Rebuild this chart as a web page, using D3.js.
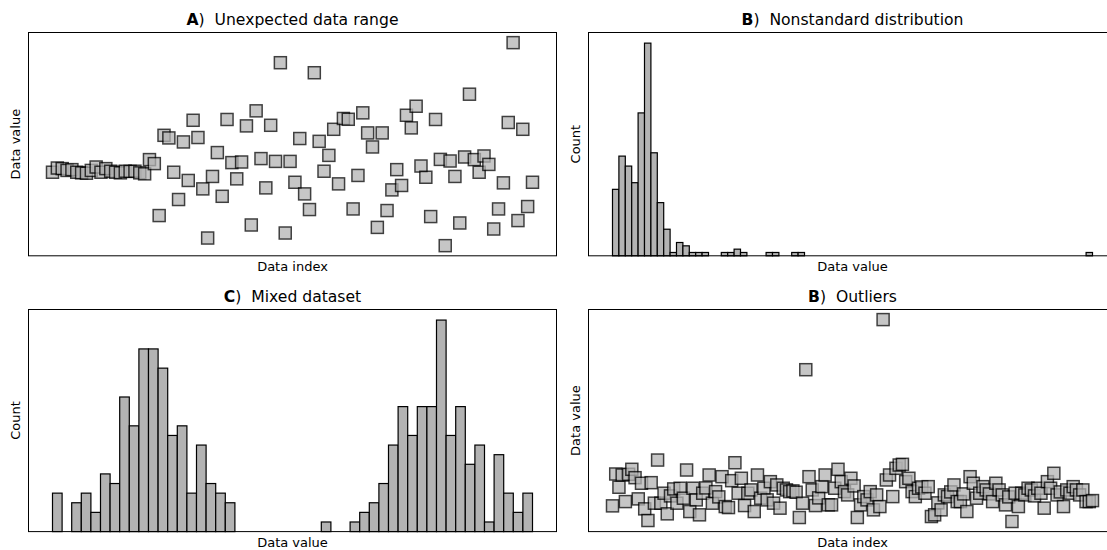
<!DOCTYPE html>
<html>
<head>
<meta charset="utf-8">
<script src="https://cdn.jsdelivr.net/npm/d3@7"></script>
<style>
  html, body { margin: 0; padding: 0; background: #fff; }
  svg { display: block; font-family: "DejaVu Sans", sans-serif; }
  text { white-space: pre; fill: #000; }
</style>
</head>
<body>
<svg id="chart" width="1107" height="550"></svg>
<script>
// Panel A: a quiet stretch followed by wide swings (one value per index)
const rangeValues = [
  -0.09, 0.12, 0.09, 0, 0.04, -0.09, -0.12, -0.14, 0, 0.17,
  -0.09, 0.09, -0.04, -0.09, -0.12, -0.04, -0.05, -0.04, -0.12, -0.17,
  0.54, 0.34, -2.25, 1.75, 1.62, -0.09, -1.45, 1.42, -0.5, 2.5,
  1.64, -0.92, -3.37, -0.3, 0.89, -1.29, 2.54, 0.39, -0.42, 0.42,
  2.22, -2.72, 2.97, 0.59, -0.87, 2.25, 0.45, 5.37, -3.12, 0.45,
  -0.59, 1.59, -1.17, -1.95, 4.87, 1.45, -0.04, 0.75, 2.05, -0.67,
  2.59, 2.55, -1.92, -0.25, 2.87, 1.87, 1.17, -2.84, 1.87, -2,
  -0.97, 0.04, -0.75, 2.75, 2.12, 3.2, 0.22, -0.34, -2.3, 2.54,
  0.55, -3.75, 0.47, -0.3, -2.62, 0.67, 3.8, 0.54, -0.09, 0.72,
  0.3, -2.92, -1.92, -0.62, 2.39, 6.37, -2.5, 2.05, -1.8, -0.59
];

// Panel B: counts per bin of a long right-tailed distribution
const skewCounts = [
  20, 30, 27, 22, 43, 64, 31, 16, 8, 1,
  4, 3, 1, 1, 1, 0, 0, 1, 1, 2,
  1, 0, 0, 0, 1, 1, 0, 0, 1, 1,
  0, 0, 0, 0, 0, 0, 0, 0, 0, 0,
  0, 0, 0, 0, 0, 0, 0, 0, 0, 0,
  0, 0, 0, 0, 0, 0, 0, 0, 0, 0,
  0, 0, 0, 0, 0, 0, 0, 0, 0, 0,
  0, 0, 0, 0, 1
];

// Panel C: counts per bin of two separate groups
const mixedCounts = [
  4, 0, 3, 4, 2, 6, 5, 14, 11, 19,
  19, 17, 10, 11, 4, 9, 5, 4, 3, 0,
  0, 0, 0, 0, 0, 0, 0, 0, 1, 0,
  0, 1, 2, 3, 5, 9, 13, 10, 13, 13,
  22, 10, 13, 7, 9, 1, 8, 4, 2, 4
];

// Panel D: a steady series with two isolated spikes
const outlierValues = [
  2.4, 5.6, 4.27, 5.5, 2.83, 5.57, 6.07, 5.23, 3.1, 4.67,
  2.1, 0.93, 4.73, 2.67, 7.0, 2.67, 3.67, 1.6, 3.4, 4.1,
  2.67, 4.17, 3.17, 6.0, 1.83, 4.17, 3.0, 1.5, 3.67, 4.2,
  5.5, 2.67, 3.83, 3.3, 5.33, 2.33, 2.23, 4.93, 6.73, 3.67,
  5.17, 2.43, 3.67, 4.0, 1.83, 5.5, 3.17, 4.17, 3.0, 4.83,
  2.67, 4.5, 2.17, 4.17, 4.0, 3.83, 3.9, 3.77, 1.23, 2.67,
  16.07, 5.33, 4.0, 2.43, 3.2, 4.33, 5.5, 2.5, 2.5, 4.17,
  6.07, 4.83, 3.83, 3.5, 5.17, 4.4, 1.23, 2.5, 3.33, 3.0,
  3.83, 2.0, 3.5, 2.33, 21.1, 5.0, 5.5, 3.33, 6.17, 6.5,
  6.57, 4.83, 5.17, 3.83, 3.33, 4.17, 4.3, 3.67, 4.33, 1.33,
  1.5, 2.7, 2.0, 3.5, 3.33, 3.8, 4.5, 2.83, 2.83, 3.6,
  1.83, 5.33, 4.67, 3.17, 3.67, 4.33, 4.0, 3.6, 2.83, 4.67,
  4.0, 3.5, 2.5, 3.3, 0.83, 3.67, 2.33, 3.67, 3.5, 4.17,
  4.0, 3.4, 4.17, 3.67, 2.17, 4.83, 4.17, 5.67, 3.5, 3.8,
  2.33, 4.0, 3.67, 4.33, 4.0, 3.5, 4.0, 2.83, 2.83, 2.93
];

const panelLetters = ["A", "B", "C", "B"];
const panelTitles = ["Unexpected data range", "Nonstandard distribution", "Mixed dataset", "Outliers"];
const xLabels = ["Data index", "Data value", "Data value", "Data index"];
const yLabels = ["Data value", "Count", "Count", "Data value"];

const svg = d3.select("#chart");

// Axes boxes (right column runs past the canvas edge)
const boxes = [
  { x0: 28.5, x1: 556.5, y0: 32.5, y1: 255.8 },
  { x0: 588.5, x1: 1116.5, y0: 32.5, y1: 255.8 },
  { x0: 28.5, x1: 556.5, y0: 309.5, y1: 531.6 },
  { x0: 588.5, x1: 1116.5, y0: 309.5, y1: 531.6 }
];

const markFill = "rgb(179,179,179)";
const markerSide = 12;

function padDomain(lo, hi) {
  const r = hi - lo;
  return [lo - 0.05 * r, hi + 0.05 * r];
}

function drawScatter(g, box, values) {
  const n = values.length;
  const x = d3.scaleLinear().domain(padDomain(0, n - 1)).range([box.x0, box.x1]);
  const ext = d3.extent(values);
  const y = d3.scaleLinear().domain(padDomain(ext[0], ext[1])).range([box.y1, box.y0]);
  g.append("g")
    .selectAll("rect")
    .data(values)
    .join("rect")
    .attr("x", (d, i) => x(i) - markerSide / 2)
    .attr("y", d => y(d) - markerSide / 2)
    .attr("width", markerSide)
    .attr("height", markerSide)
    .attr("fill", markFill)
    .attr("stroke", "#000")
    .attr("stroke-width", 1.5)
    .attr("opacity", 0.75);
}

function drawHistogram(g, box, counts) {
  const nb = counts.length;
  const x = d3.scaleLinear().domain(padDomain(0, nb)).range([box.x0, box.x1]);
  const y = d3.scaleLinear().domain([0, d3.max(counts) * 1.05]).range([box.y1, box.y0]);
  const bins = counts.map((c, i) => ({ lo: i, hi: i + 1, c }));
  g.append("g")
    .selectAll("rect")
    .data(bins.filter(b => b.c > 0))
    .join("rect")
    .attr("x", b => x(b.lo))
    .attr("y", b => y(b.c))
    .attr("width", b => x(b.hi) - x(b.lo))
    .attr("height", b => y(0) - y(b.c))
    .attr("fill", markFill)
    .attr("stroke", "#000")
    .attr("stroke-width", 1.2);
}

function decorate(g, box, k) {
  const cx = (box.x0 + box.x1) / 2;
  const cy = (box.y0 + box.y1) / 2;

  g.append("rect")
    .attr("x", box.x0).attr("y", box.y0)
    .attr("width", box.x1 - box.x0).attr("height", box.y1 - box.y0)
    .attr("fill", "none").attr("stroke", "#000").attr("stroke-width", 1);

  const title = g.append("text")
    .attr("x", cx).attr("y", box.y0 - 7.5)
    .attr("text-anchor", "middle")
    .attr("font-size", 15.6);
  title.append("tspan").attr("font-weight", "bold").text(panelLetters[k]);
  title.append("tspan").text(")  " + panelTitles[k]);

  g.append("text")
    .attr("x", cx).attr("y", box.y1 + 15.6)
    .attr("text-anchor", "middle")
    .attr("font-size", 13)
    .text(xLabels[k]);

  g.append("text")
    .attr("transform", `translate(${box.x0 - 8.5},${cy}) rotate(-90)`)
    .attr("text-anchor", "middle")
    .attr("font-size", 13)
    .text(yLabels[k]);
}

const layers = boxes.map(() => svg.append("g"));
drawScatter(layers[0], boxes[0], rangeValues);
drawHistogram(layers[1], boxes[1], skewCounts);
drawHistogram(layers[2], boxes[2], mixedCounts);
drawScatter(layers[3], boxes[3], outlierValues);
boxes.forEach((b, k) => decorate(layers[k], b, k));
</script>
</body>
</html>
